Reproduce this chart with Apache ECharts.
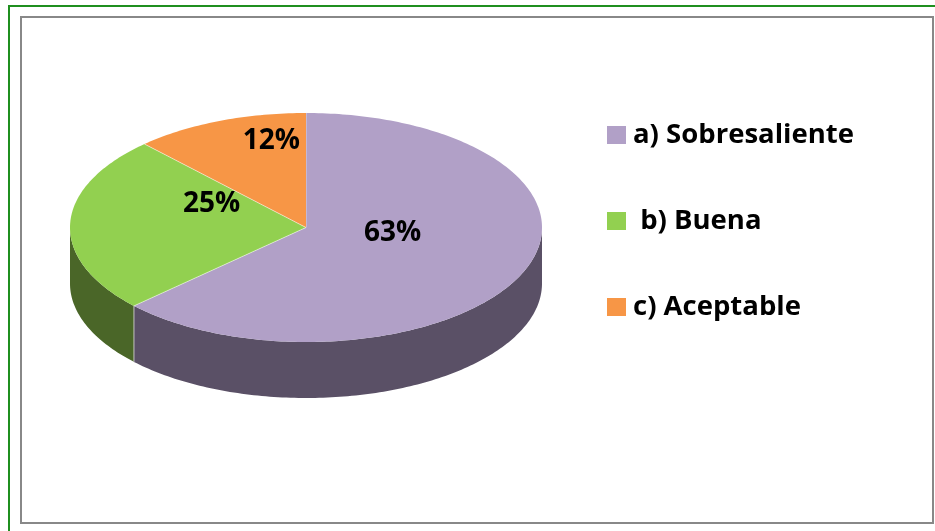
<!DOCTYPE html>
<html>
<head>
<meta charset="utf-8">
<script src="https://cdn.jsdelivr.net/npm/echarts@6/dist/echarts.min.js"></script>
<style>
  html, body { margin: 0; padding: 0; background: #fff; }
  #chart { width: 935px; height: 531px; }
</style>
</head>
<body>
<div id="chart"></div>
<script>
// Chart data
const categories = ['a) Sobresaliente', ' b) Buena', 'c) Aceptable'];
const percentages = [63, 25, 12];

// Colours (top face / side wall)
const topColors = ['#B1A0C7', '#92D050', '#F79646'];
const sideColors = ['#5A5066', '#4A6628', '#9B5A26'];

const total = percentages.reduce((a, b) => a + b, 0);
const depth = 0.489; // wall height in axis units (unit radius = vertical semi-axis)

// cumulative start for each slice
let starts = [];
let acc = 0;
percentages.forEach(v => { starts.push(acc); acc += v; });

function renderSlice(params, api) {
    const start = api.value(0);
    const val = api.value(1);
    const idx = params.seriesIndex;
    const a0 = -90 + 360 * start / total;
    const a1 = a0 + 360 * val / total;

    function pt(deg, drop) {
        const r = deg * Math.PI / 180;
        return api.coord([Math.cos(r), -Math.sin(r) - drop]);
    }
    function arc(from, to, drop) {
        let pts = [];
        const step = from < to ? 1 : -1;
        for (let t = from; step > 0 ? t < to : t > to; t += step) pts.push(pt(t, drop));
        pts.push(pt(to, drop));
        return pts;
    }

    const children = [];

    // front wall (visible between 0 and 180 deg)
    const lo = Math.max(a0, 0), hi = Math.min(a1, 180);
    if (lo < hi) {
        const wall = arc(lo, hi, 0).concat(arc(hi, lo, depth));
        children.push({
            type: 'polygon',
            shape: { points: wall },
            style: { fill: sideColors[idx] }
        });
        if (a0 > 0 && a0 < 180) {
            children.push({
                type: 'line',
                shape: { x1: pt(a0, 0)[0], y1: pt(a0, 0)[1], x2: pt(a0, depth)[0], y2: pt(a0, depth)[1] },
                style: { stroke: 'rgba(220,220,220,0.8)', lineWidth: 1 }
            });
        }
    }

    // top face
    const topPts = [api.coord([0, 0])].concat(arc(a0, a1, 0));
    children.push({
        type: 'polygon',
        shape: { points: topPts },
        style: { fill: topColors[idx] }
    });
    const c = api.coord([0, 0]);
    const e = pt(a0, 0);
    children.push({
        type: 'line',
        shape: { x1: c[0], y1: c[1], x2: e[0], y2: e[1] },
        style: { stroke: 'rgba(255,255,255,0.5)', lineWidth: 1 }
    });

    // percentage label
    const m = ((a0 + a1) / 2) * Math.PI / 180;
    const lp = api.coord([0.4 * Math.cos(m), -0.61 * Math.sin(m) + 0.19]);
    children.push({
        type: 'text',
        x: lp[0],
        y: lp[1],
        z2: 10,
        style: {
            text: Math.round(val / total * 100) + '%',
            font: 'bold 28px "Open Sans"',
            fill: '#000',
            align: 'center',
            verticalAlign: 'middle'
        }
    });

    return { type: 'group', children: children };
}

const series = categories.map((name, i) => ({
    name: name,
    type: 'custom',
    renderItem: renderSlice,
    itemStyle: { color: topColors[i] },
    data: [[starts[i], percentages[i]]]
}));

const chart = echarts.init(document.getElementById('chart'));
chart.setOption({
    animation: false,
    grid: { left: 70, top: 113, width: 472, height: 285 },
    xAxis: { type: 'value', min: -1, max: 1, show: false },
    yAxis: { type: 'value', min: -1 - depth, max: 1, show: false },
    legend: {
        orient: 'vertical',
        left: 602,
        top: 115,
        icon: 'rect',
        itemWidth: 19,
        itemHeight: 18,
        itemGap: 56,
        selectedMode: false,
        textStyle: {
            fontFamily: 'Open Sans',
            fontWeight: 'bold',
            fontSize: 27.5,
            lineHeight: 30,
            color: '#000',
            padding: [0, 0, 0, 2]
        },
        data: categories
    },
    graphic: [
        {
            type: 'polyline',
            shape: { points: [[9, 531], [9, 6], [935, 6]] },
            style: { stroke: '#1f8f1f', lineWidth: 2, fill: null }
        },
        {
            type: 'rect',
            shape: { x: 21, y: 17, width: 912, height: 506 },
            style: { stroke: '#888', lineWidth: 2, fill: null }
        }
    ],
    series: series
});
</script>
</body>
</html>
